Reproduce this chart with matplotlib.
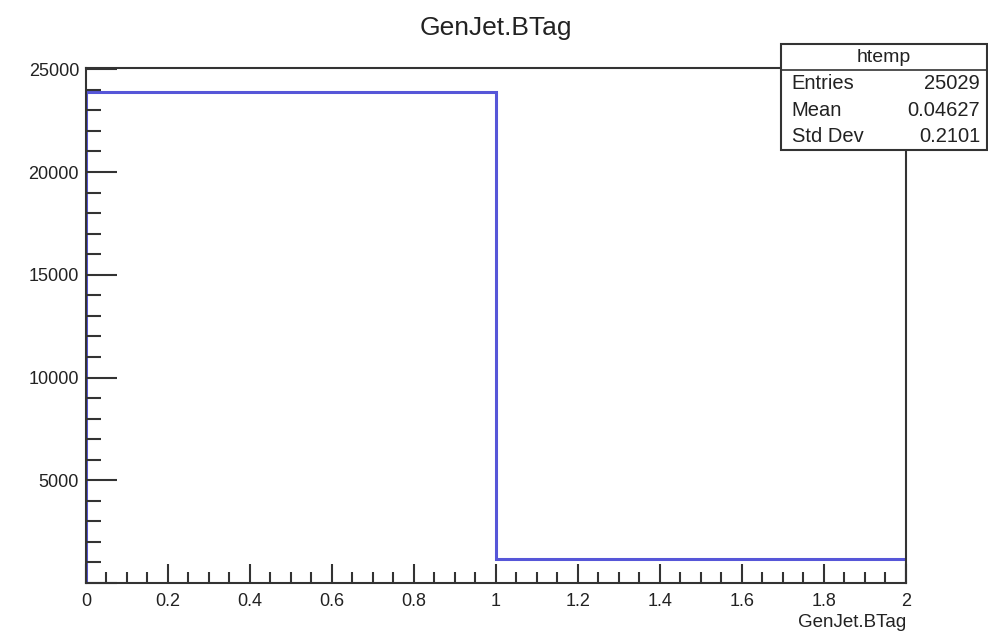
import numpy as np
import matplotlib.pyplot as plt
from matplotlib.ticker import MultipleLocator

# histogram data (GenJet.BTag)
bin_edges = [0, 1, 2]
counts = [23871, 1158]
hist_name = "htemp"
stat_labels = ["Entries", "Mean", "Std Dev"]
stat_values = ["25029", "0.04627", "0.2101"]

plt.rcParams['font.family'] = ['Liberation Sans', 'DejaVu Sans']

fig = plt.figure(figsize=(9.88, 6.32), dpi=100)
ax = fig.add_axes([0.087, 0.0775, 0.830, 0.815])

ax.stairs(counts, bin_edges, color='#5656d8', linewidth=2.2)

ax.set_xlim(0, 2)
ax.set_ylim(0, 1.05 * max(counts))

ax.xaxis.set_major_locator(MultipleLocator(0.2))
ax.xaxis.set_minor_locator(MultipleLocator(0.05))
ax.yaxis.set_major_locator(MultipleLocator(5000))
ax.yaxis.set_minor_locator(MultipleLocator(1000))

ax.tick_params(axis='both', which='both', direction='in', top=False, right=False,
               color='#333333', width=1.5, labelsize=13, labelcolor='#222222')
ax.tick_params(axis='x', which='major', length=14, pad=7)
ax.tick_params(axis='x', which='minor', length=8)
ax.tick_params(axis='y', which='major', length=22, pad=5)
ax.tick_params(axis='y', which='minor', length=11)

ax.xaxis.set_major_formatter(plt.FuncFormatter(lambda v, p: f"{v:g}"))
ax.yaxis.set_major_formatter(plt.FuncFormatter(lambda v, p: "" if v == 0 else f"{v:g}"))

for s in ax.spines.values():
    s.set_color('#333333')
    s.set_linewidth(1.5)

fig.text(0.502, 0.955, "GenJet.BTag", ha='center', va='center', fontsize=19, color='#222222')
ax.set_xlabel("GenJet.BTag", fontsize=13.5, color='#222222')
ax.xaxis.set_label_coords(1.0, -0.06)
ax.xaxis.label.set_horizontalalignment('right')

# stats box
bx0, by0, bw, bh = 781 / 988, 1 - 150 / 632, 206 / 988, 106 / 632
box = plt.Rectangle((bx0, by0), bw, bh, transform=fig.transFigure,
                    facecolor='white', edgecolor='#333333', linewidth=1.5, zorder=5)
fig.add_artist(box)
hdr_h = 26 / 632
fig.add_artist(plt.Line2D([bx0, bx0 + bw], [by0 + bh - hdr_h] * 2, transform=fig.transFigure,
                          color='#333333', linewidth=1.2, zorder=6))
fig.text(bx0 + bw / 2, by0 + bh - hdr_h / 2, hist_name, ha='center', va='center',
         fontsize=14, color='#222222', zorder=7)
row_h = (bh - hdr_h) / len(stat_labels)
for i, (lab, val) in enumerate(zip(stat_labels, stat_values)):
    y = by0 + bh - hdr_h - row_h * (i + 0.5)
    fig.text(bx0 + 0.011, y, lab, ha='left', va='center', fontsize=14.5, color='#222222', zorder=7)
    fig.text(bx0 + bw - 0.007, y, val, ha='right', va='center', fontsize=14.5, color='#222222', zorder=7)

fig.savefig("out.png", dpi=100)
